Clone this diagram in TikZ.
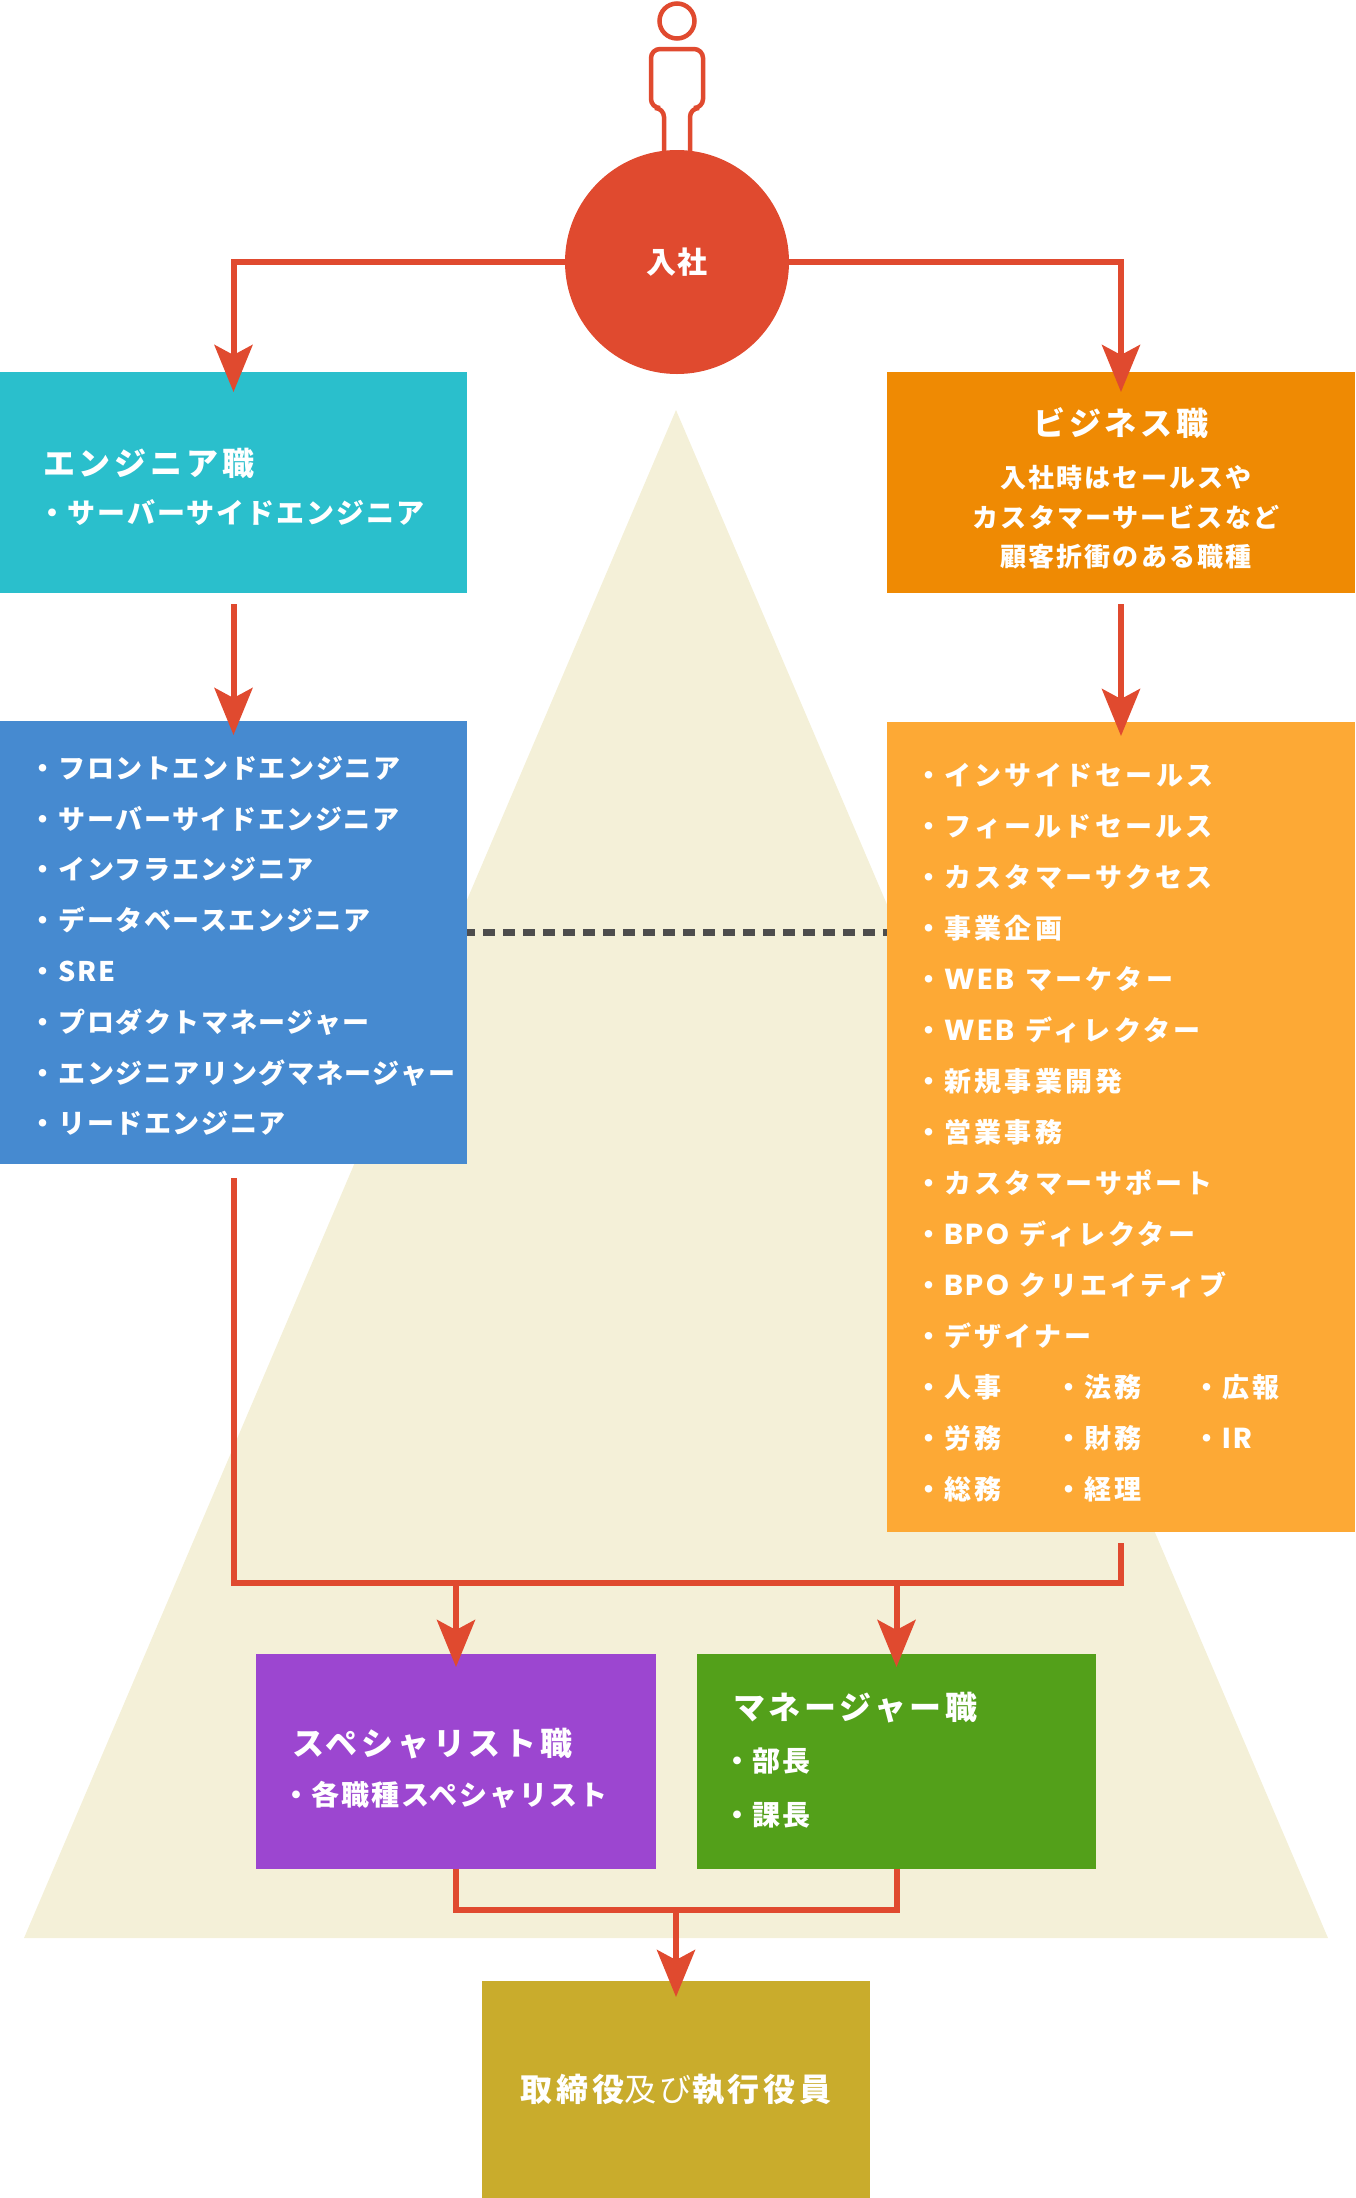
\documentclass[tikz,border=0pt]{standalone}
\usepackage{fontspec}
\setmainfont{Noto Sans CJK JP}
\newfontfamily\latinfont{Poppins}
\usepackage{xcolor}
\usepackage{tikz}
\usetikzlibrary{positioning, arrows.meta, calc}

\definecolor{linered}{HTML}{E04A2F}
\definecolor{trifill}{HTML}{F4F0D8}
\definecolor{engcyan}{HTML}{2ABFCC}
\definecolor{bizorange}{HTML}{EF8A03}
\definecolor{listblue}{HTML}{468AD0}
\definecolor{listorange}{HTML}{FDA935}
\definecolor{specpurple}{HTML}{9C46D0}
\definecolor{mgrgreen}{HTML}{53A01A}
\definecolor{execgold}{HTML}{C9AC2C}
\definecolor{dotgray}{HTML}{4D4D4D}

\newcommand\titlefont{\fontsize{32pt}{32pt}\selectfont\bfseries\addfontfeature{LetterSpace=12}}
\newcommand\entryfont{\fontsize{30pt}{30pt}\selectfont\bfseries\addfontfeature{LetterSpace=6}}
\newcommand\subfont{\fontsize{28pt}{28pt}\selectfont\bfseries\addfontfeature{LetterSpace=7}}
\newcommand\descfont{\fontsize{26pt}{26pt}\selectfont\bfseries\addfontfeature{LetterSpace=8}}
\newcommand\engfont{\fontsize{27pt}{27pt}\selectfont\bfseries\addfontfeature{LetterSpace=6}}
\newcommand\bizfont{\fontsize{27pt}{27pt}\selectfont\bfseries\addfontfeature{LetterSpace=12}}
\newcommand\dotmark{・\kern2pt}
\newcommand\latword[1]{{\latinfont\fontsize{29pt}{29pt}\selectfont\bfseries\addfontfeature{LetterSpace=8}#1}}

\begin{document}
\begin{tikzpicture}[x=1pt, y=-1pt,
    box/.style={rectangle, inner sep=0pt, outer sep=0pt},
    whitetext/.style={text=white, inner sep=0pt, outer sep=0pt},
    titletext/.style={whitetext, font=\titlefont, text height=28.16pt, text depth=3.84pt},
    entrytext/.style={whitetext, font=\entryfont, text height=26.4pt, text depth=3.6pt},
    subtext/.style={whitetext, font=\subfont, text height=24.64pt, text depth=3.36pt},
    desctext/.style={whitetext, font=\descfont, text height=22.88pt, text depth=3.12pt},
    engitem/.style={whitetext, font=\engfont, text height=23.76pt, text depth=3.24pt},
    bizitem/.style={whitetext, font=\bizfont, text height=23.76pt, text depth=3.24pt},
    flow/.style={draw=linered, line width=6pt, -{Stealth[length=47pt, width=38pt, inset=10pt]}},
    link/.style={draw=linered, line width=6pt},
    person/.style={draw=linered, line width=4.5pt},
    dotline/.style={draw=dotgray, line width=7pt, dash pattern=on 12pt off 8pt, dash phase=4pt},
]
\useasboundingbox (0,0) rectangle (1355,2198);
% background triangle
\fill[trifill] (676,410) -- (24,1938) -- (1328,1938) -- cycle;

% person on top
\draw[person] (677,21) circle (17.5);
\draw[person, rounded corners=9pt] (664,156) -- (664,108) -- (651,108) -- (651,49) -- (703,49) -- (703,108) -- (690,108) -- (690,156);
\node[circle, fill=linered, minimum size=224pt, entrytext](entry) at (677,262){入社};

% boxes
\node[box, fill=engcyan, minimum width=467pt, minimum height=221pt, anchor=north west](eng_box) at (0,372){};
\node[box, fill=bizorange, minimum width=468pt, minimum height=221pt, anchor=north east](biz_box) at (1355,372){};
\node[box, fill=listblue, minimum width=467pt, minimum height=443pt](eng_list)[below = 128pt of eng_box]{};
\node[box, fill=listorange, minimum width=468pt, minimum height=810pt](biz_list)[below = 129pt of biz_box]{};
\node[box, fill=specpurple, minimum width=400pt, minimum height=215pt, anchor=north west](spec_box) at (256,1654){};
\node[box, fill=mgrgreen, minimum width=399pt, minimum height=215pt](mgr_box)[right = 41pt of spec_box]{};
\node[box, fill=execgold, minimum width=388pt, minimum height=217pt, anchor=north](exec_box) at (676,1981){};

% engineer
\node[titletext](eng_title)[below right = 75pt and 43pt of eng_box.north west]{エンジニア職};
\node[subtext](eng_item)[below right = 127pt and 38pt of eng_box.north west]{\dotmark サーバーサイドエンジニア};

% business
\node[titletext](biz_title)[below = 35pt of biz_box.north]{ビジネス職};
\node[desctext](biz_desc1)[below = 26pt of biz_title, xshift=5pt]{入社時はセールスや};
\node[desctext](biz_desc2)[below = 14pt of biz_desc1]{カスタマーサービスなど};
\node[desctext](biz_desc3)[below = 13pt of biz_desc2]{顧客折衝のある職種};

% engineer list
\node[engitem](front)[below right = 33.5pt and 29.5pt of eng_list.north west]{\dotmark フロントエンドエンジニア};
\node[engitem](server)[below = 23.8pt of front.south west, anchor=north west]{\dotmark サーバーサイドエンジニア};
\node[engitem](infra)[below = 23.8pt of server.south west, anchor=north west]{\dotmark インフラエンジニア};
\node[engitem](dbase)[below = 23.8pt of infra.south west, anchor=north west]{\dotmark データベースエンジニア};
\node[engitem](sre)[below = 23.8pt of dbase.south west, anchor=north west]{\dotmark SRE};
\node[engitem](prodm)[below = 23.8pt of sre.south west, anchor=north west]{\dotmark プロダクトマネージャー};
\node[engitem](engm)[below = 23.8pt of prodm.south west, anchor=north west]{\dotmark エンジニアリングマネージャー};
\node[engitem](lead)[below = 23.8pt of engm.south west, anchor=north west]{\dotmark リードエンジニア};

% business list
\node[bizitem](inside)[below right = 39.5pt and 28.5pt of biz_list.north west]{\dotmark インサイドセールス};
\node[bizitem](field)[below = 24pt of inside.south west, anchor=north west]{\dotmark フィールドセールス};
\node[bizitem](success)[below = 24pt of field.south west, anchor=north west]{\dotmark カスタマーサクセス};
\node[bizitem](plan)[below = 24pt of success.south west, anchor=north west]{\dotmark 事業企画};
\node[bizitem](webm)[below = 24pt of plan.south west, anchor=north west]{\dotmark \latword{WEB}\hspace{0.4em}マーケター};
\node[bizitem](webd)[below = 24pt of webm.south west, anchor=north west]{\dotmark \latword{WEB}\hspace{0.4em}ディレクター};
\node[bizitem](newbiz)[below = 24pt of webd.south west, anchor=north west]{\dotmark 新規事業開発};
\node[bizitem](salesop)[below = 24pt of newbiz.south west, anchor=north west]{\dotmark 営業事務};
\node[bizitem](support)[below = 24pt of salesop.south west, anchor=north west]{\dotmark カスタマーサポート};
\node[bizitem](bpod)[below = 24pt of support.south west, anchor=north west]{\dotmark \latword{BPO}\hspace{0.4em}ディレクター};
\node[bizitem](bpoc)[below = 24pt of bpod.south west, anchor=north west]{\dotmark \latword{BPO}\hspace{0.4em}クリエイティブ};
\node[bizitem](design)[below = 24pt of bpoc.south west, anchor=north west]{\dotmark デザイナー};
\node[bizitem](hr)[below = 24pt of design.south west, anchor=north west]{\dotmark 人事};
\node[bizitem](labor)[below = 24pt of hr.south west, anchor=north west]{\dotmark 労務};
\node[bizitem](general)[below = 24pt of labor.south west, anchor=north west]{\dotmark 総務};
\node[bizitem](legal)[right = 140pt of hr.north west, anchor=north west]{\dotmark 法務};
\node[bizitem](finance)[right = 140pt of labor.north west, anchor=north west]{\dotmark 財務};
\node[bizitem](acct)[right = 140pt of general.north west, anchor=north west]{\dotmark 経理};
\node[bizitem](pr)[right = 278pt of hr.north west, anchor=north west]{\dotmark 広報};
\node[bizitem](ir)[right = 278pt of labor.north west, anchor=north west]{\dotmark \latword{IR}};

% specialist and manager
\node[titletext](spec_title)[below right = 73pt and 36pt of spec_box.north west]{スペシャリスト職};
\node[subtext](spec_item)[below right = 127pt and 26pt of spec_box.north west]{\dotmark 各職種スペシャリスト};
\node[titletext](mgr_title)[below right = 37pt and 36pt of mgr_box.north west]{マネージャー職};
\node[subtext](mgr_item1)[below right = 93pt and 26pt of mgr_box.north west]{\dotmark 部長};
\node[subtext](mgr_item2)[below right = 147pt and 26pt of mgr_box.north west]{\dotmark 課長};

% executives
\node[titletext](exec_text) at (exec_box.center){取締役{\mdseries 及び}執行役員};

% connectors
\coordinate (merge) at (676,1583);
\coordinate (exec_join) at (676,1910);
\coordinate (dot_y) at (0,932);
\draw[flow] (entry.west) -| ($(eng_box.north)+(0,20)$);
\draw[flow] (entry.east) -| ($(biz_box.north)+(0,20)$);
\draw[flow] ($(eng_box.south)+(0,11)$) -- ($(eng_list.north)+(0,14)$);
\draw[flow] ($(biz_box.south)+(0,11)$) -- ($(biz_list.north)+(0,14)$);
\draw[link] ($(eng_list.south)+(0,14)$) |- (merge) -| ($(biz_list.south)+(0,11)$);
\draw[flow] (spec_box.north |- merge) -- ($(spec_box.north)+(0,13)$);
\draw[flow] (mgr_box.north |- merge) -- ($(mgr_box.north)+(0,13)$);
\draw[link] (spec_box.south) |- (exec_join) -| (mgr_box.south);
\draw[flow] (exec_join) -- ($(exec_box.north)+(0,16)$);
\draw[dotline] (eng_list.east |- dot_y) -- (biz_list.west |- dot_y);
\end{tikzpicture}
\end{document}
